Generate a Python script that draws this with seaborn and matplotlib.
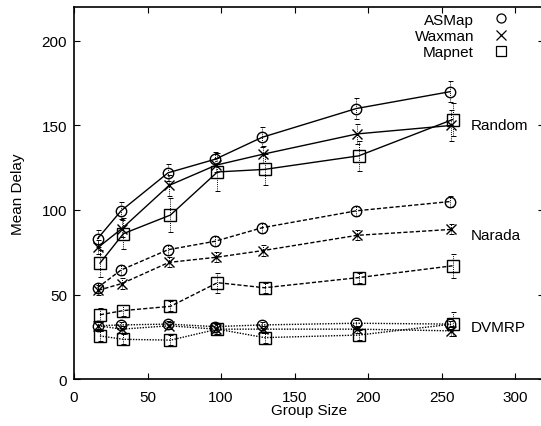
import matplotlib
matplotlib.use("Agg")
import matplotlib.pyplot as plt
from matplotlib.lines import Line2D
import seaborn as sns
import pandas as pd
import numpy as np

# ---------------- data ----------------
group_sizes = [16, 32, 64, 96, 128, 192, 256]
topologies = ["ASMap", "Waxman", "Mapnet"]
schemes = ["Random", "Narada", "DVMRP"]

random_asmap = [83, 99.5, 122, 130, 143, 160, 170]
random_waxman = [78, 89, 114.5, 126.5, 133, 145, 150]
random_mapnet = [68.5, 86, 97, 122.5, 124, 132, 153.5]

narada_asmap = [54, 64.5, 76.5, 81.5, 89.5, 99.5, 105]
narada_waxman = [52.5, 56.5, 69, 72, 76, 85, 88.5]
narada_mapnet = [38, 40.5, 43, 57, 54, 60, 67]

dvmrp_asmap = [31.5, 32, 32.5, 31, 32, 33, 32.5]
dvmrp_waxman = [31.5, 29.5, 31.5, 29.5, 29.5, 29.5, 28.5]
dvmrp_mapnet = [25.5, 23.5, 23, 29.5, 24.5, 26, 32.5]

random_asmap_err = [5, 5, 5, 4, 6, 6, 6]
random_waxman_err = [4, 5, 6, 4, 5, 6, 9]
random_mapnet_err = [8, 9, 10, 11, 9, 9, 10]
narada_asmap_err = [3, 3, 3, 3, 3, 3, 3]
narada_waxman_err = [3, 3, 3, 3, 3, 3, 3]
narada_mapnet_err = [4, 3, 3, 6, 3, 3, 7]
dvmrp_asmap_err = [2, 2, 2, 2, 2, 2, 2]
dvmrp_waxman_err = [2, 2, 2, 3, 2, 2, 3]
dvmrp_mapnet_err = [3, 3, 3, 3, 3, 3, 7]

x_ticks = [0, 50, 100, 150, 200, 250, 300]
y_ticks = [0, 50, 100, 150, 200]

values = {
    ("Random", "ASMap"): (random_asmap, random_asmap_err),
    ("Random", "Waxman"): (random_waxman, random_waxman_err),
    ("Random", "Mapnet"): (random_mapnet, random_mapnet_err),
    ("Narada", "ASMap"): (narada_asmap, narada_asmap_err),
    ("Narada", "Waxman"): (narada_waxman, narada_waxman_err),
    ("Narada", "Mapnet"): (narada_mapnet, narada_mapnet_err),
    ("DVMRP", "ASMap"): (dvmrp_asmap, dvmrp_asmap_err),
    ("DVMRP", "Waxman"): (dvmrp_waxman, dvmrp_waxman_err),
    ("DVMRP", "Mapnet"): (dvmrp_mapnet, dvmrp_mapnet_err),
}

rows = []
for (sch, topo), (vals, errs) in values.items():
    for g, v, e in zip(group_sizes, vals, errs):
        rows.append({"scheme": sch, "topology": topo, "size": g, "delay": v, "err": e})
df = pd.DataFrame(rows)

# ---------------- style ----------------
sns.set_theme(style="white")
plt.rcParams["font.family"] = ["Liberation Sans", "DejaVu Sans"]
plt.rcParams["text.color"] = "black"
plt.rcParams["axes.labelcolor"] = "black"

line_styles = {"Random": "-", "Narada": (0, (3, 1.5)), "DVMRP": (0, (1, 1))}
markers = {"ASMap": "o", "Waxman": "x", "Mapnet": "s"}
msizes = {"ASMap": 7.5, "Waxman": 7.5, "Mapnet": 8}
x_offset = {"ASMap": 0.0, "Waxman": 0.6, "Mapnet": 1.6}

fig = plt.figure(figsize=(5.41, 4.27), dpi=100)
ax = fig.add_axes([0.1368, 0.110, 0.8695, 0.871])

for (sch, topo), sub in df.groupby(["scheme", "topology"], sort=False):
    xs = sub["size"] + x_offset[topo]
    sns.lineplot(x=xs, y=sub["delay"], ax=ax, color="black",
                 linestyle=line_styles[sch], linewidth=1.0,
                 marker=markers[topo], markersize=msizes[topo],
                 markerfacecolor="none", markeredgecolor="black",
                 markeredgewidth=1.0, legend=False, estimator=None,
                 errorbar=None)
    eb = ax.errorbar(xs, sub["delay"], yerr=sub["err"], fmt="none",
                     ecolor="black", elinewidth=0.7, capsize=1.8,
                     capthick=0.7)
    eb[2][0].set_linestyle((0, (1, 1.2)))

for sch, ypos in zip(schemes, [150.5, 85, 30.5]):
    ax.text(270, ypos, sch, fontsize=11, va="center", ha="left", color="black")

handles = [Line2D([], [], linestyle="none", marker=markers[t], markersize=msizes[t] - 1,
                  markerfacecolor="none", markeredgecolor="black", markeredgewidth=0.9,
                  color="black") for t in topologies]
ax.legend(handles, topologies, loc="upper right", bbox_to_anchor=(0.925, 0.985),
          frameon=False, markerfirst=False, fontsize=11, handlelength=1.0,
          handletextpad=1.3, labelspacing=0.15, borderpad=0, borderaxespad=0)

ax.set_xlim(0, 320)
ax.set_ylim(0, 220)
ax.set_xticks(x_ticks)
ax.set_yticks(y_ticks)
ax.set_xticklabels([str(t) for t in x_ticks], fontsize=11)
ax.set_yticklabels([str(t) for t in y_ticks], fontsize=11)
ax.tick_params(direction="in", length=4, width=0.8, top=True, right=True,
               bottom=True, left=True, colors="black", pad=5)
ax.tick_params(axis="x", pad=8)
ax.set_xlabel("Group Size", fontsize=11, labelpad=-1)
ax.set_ylabel("Mean Delay", fontsize=11, labelpad=12)
for s in ax.spines.values():
    s.set_color("black")
    s.set_linewidth(1.2)
ax.grid(False)

fig.savefig("out.png", dpi=100)
